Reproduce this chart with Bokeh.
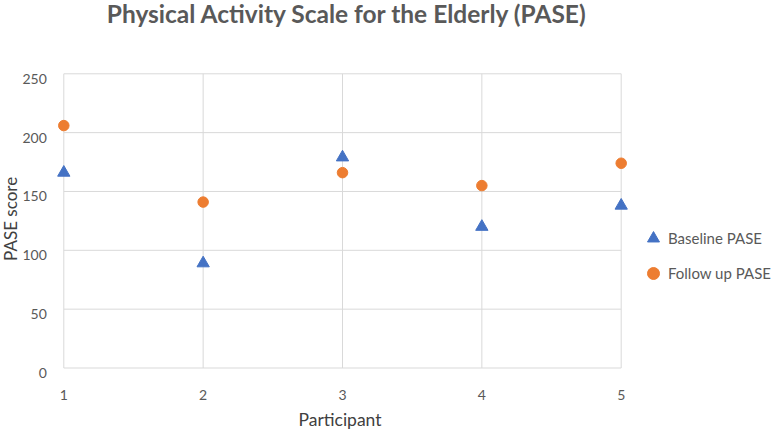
import math
from bokeh.plotting import figure
from bokeh.models import Legend, LegendItem, Range1d
from bokeh.core.properties import value
from bokeh.embed import file_html
from bokeh.resources import INLINE

# ---- data ----
participants = [1, 2, 3, 4, 5]
baseline_pase = [166, 89, 179, 120, 138]
followup_pase = [206, 141, 166, 155, 174]
y_ticks = [0, 50, 100, 150, 200, 250]
x_ticks = [1, 2, 3, 4, 5]
y_tick_labels = [str(v) for v in y_ticks]
x_tick_labels = [str(v) for v in x_ticks]
series_labels = ["Baseline PASE", "Follow up PASE"]
title_text = "Physical Activity Scale for the Elderly (PASE)"
x_title = "Participant"
y_title = "PASE score"

# ---- style / layout ----
TEXT = "#595959"
AXTITLE = "#404040"
GRID = "#D9D9D9"
BLUE = "#4472C4"
ORANGE = "#ED7D31"
FONT = "Lato"
W, H = 771, 431
# where the first/last ticks sit on the canvas (pixels)
X_FIRST_PX, X_LAST_PX = 63.3, 620.7
Y_FIRST_PX, Y_LAST_PX = 367.5, 73.3

sx = (X_LAST_PX - X_FIRST_PX) / (x_ticks[-1] - x_ticks[0])
sy = (Y_FIRST_PX - Y_LAST_PX) / (y_ticks[-1] - y_ticks[0])
x_range = Range1d(x_ticks[0] - X_FIRST_PX / sx, x_ticks[-1] + (W - X_LAST_PX) / sx)
y_range = Range1d(y_ticks[0] - (H - Y_FIRST_PX) / sy, y_ticks[-1] + Y_LAST_PX / sy)

p = figure(width=W, height=H, output_backend="svg", toolbar_location=None,
           x_range=x_range, y_range=y_range, title_location=None,
           x_axis_location=None, y_axis_location=None, min_border=0)
p.min_border_left = p.min_border_right = p.min_border_top = p.min_border_bottom = 0
p.outline_line_color = None
p.background_fill_color = "white"
p.border_fill_color = "white"
p.grid.visible = False

# gridlines (plot area spans first..last tick)
p.segment(x0=[x_ticks[0]] * len(y_ticks), x1=[x_ticks[-1]] * len(y_ticks),
          y0=y_ticks, y1=y_ticks, line_color=GRID, line_width=1)
p.segment(x0=x_ticks, x1=x_ticks, y0=[y_ticks[0]] * len(x_ticks),
          y1=[y_ticks[-1]] * len(x_ticks), line_color=GRID, line_width=1)

# tick labels
p.text(x=[x_ticks[0]] * len(y_ticks), y=y_ticks, text=y_tick_labels,
       text_font=value(FONT), text_font_size="14px", text_color=TEXT,
       text_align="right", text_baseline="alphabetic", x_offset=-17, y_offset=5)
p.text(x=x_ticks, y=[y_ticks[0]] * len(x_ticks), text=x_tick_labels,
       text_font=value(FONT), text_font_size="14px", text_color=TEXT,
       text_align="center", text_baseline="alphabetic", y_offset=27)

# axis titles and chart title
x_mid = (x_ticks[0] + x_ticks[-1]) / 2
y_mid = (y_ticks[0] + y_ticks[-1]) / 2
p.text(x=[x_mid], y=[y_ticks[0]], text=[x_title], text_font=value(FONT),
       text_font_size="17.5px", text_color=AXTITLE, text_align="center",
       text_baseline="alphabetic", x_offset=-2.5, y_offset=51)
p.text(x=[x_ticks[0]], y=[y_mid], text=[y_title], text_font=value(FONT),
       text_font_size="17px", text_color=AXTITLE, text_align="center",
       text_baseline="alphabetic", angle=math.pi / 2, x_offset=-53.5, y_offset=-2)
p.text(x=[x_mid], y=[y_ticks[-1]], text=[title_text], text_font=value(FONT),
       text_font_size="24.5px", text_font_style="bold", text_color=TEXT,
       text_align="center", text_baseline="alphabetic", x_offset=5, y_offset=-60.5)

# data
r1 = p.scatter(participants, baseline_pase, marker="triangle", size=12.3,
               fill_color=BLUE, line_color=BLUE)
r2 = p.scatter(participants, followup_pase, marker="circle", size=10.5,
               fill_color=ORANGE, line_color=ORANGE)

legend = Legend(items=[LegendItem(label=series_labels[0], renderers=[r1]),
                       LegendItem(label=series_labels[1], renderers=[r2])],
                location=(638, 143.5), orientation="vertical",
                glyph_width=30, glyph_height=30, label_standoff=0,
                spacing=5, padding=0, margin=0,
                border_line_color=None, background_fill_alpha=0)
legend.label_text_font = FONT
legend.label_text_font_size = "15px"
legend.label_text_color = TEXT
p.add_layout(legend)

open("out.html", "w").write(file_html(p, INLINE))
